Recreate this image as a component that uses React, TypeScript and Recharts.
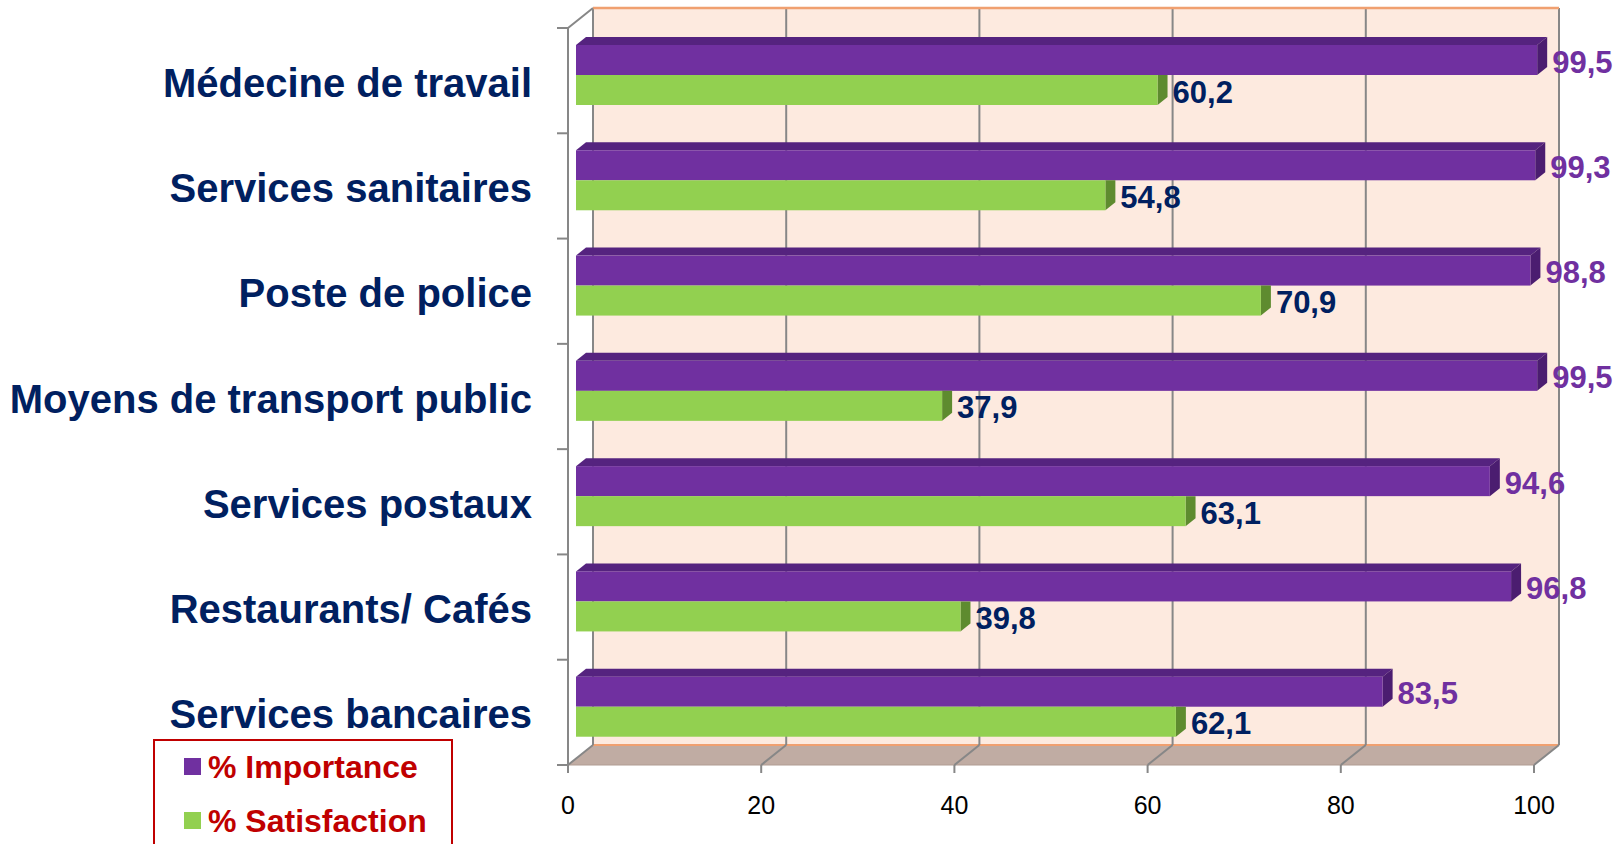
import React from 'react'
import { BarChart, Bar, XAxis, YAxis, ReferenceArea, LabelList, Legend } from 'recharts'

const categories = [
  'Médecine de travail',
  'Services sanitaires',
  'Poste de police',
  'Moyens de transport public',
  'Services postaux',
  'Restaurants/ Cafés',
  'Services bancaires',
]
const importance = [99.5, 99.3, 98.8, 99.5, 94.6, 96.8, 83.5]
const satisfaction = [60.2, 54.8, 70.9, 37.9, 63.1, 39.8, 62.1]
const xTicks = [0, 20, 40, 60, 80, 100]

const data = categories.map((name, i) => ({
  name,
  importance: importance[i],
  satisfaction: satisfaction[i],
}))

const FONT = 'Arial, "Liberation Sans", sans-serif'
const NAVY = '#002060'
const PURPLE = '#7030a0'
const GREEN = '#92d050'
const RED = '#c00000'

// depth of the bars, and where the walls sit relative to the bar plane
const DX = 10
const DY = 8
const BACK = { dx: 17, dy: -14 }
const FRONT = { dx: -8, dy: 6 }

const fmt = (v: number) => v.toFixed(1).replace('.', ',')

// back wall, floor, left wall and the grid, drawn around the plot area
const Box3D = (props: any) => {
  const { x, y, width, height } = props
  const bx = x + BACK.dx
  const by = y + BACK.dy
  const fx = x + FRONT.dx
  const fy = y + FRONT.dy
  const steps = xTicks.length - 1
  const rows = categories.length
  const grid = '#878787'
  return (
    <g>
      <rect x={bx} y={by} width={width} height={height} fill="#fdeadf" />
      <polygon
        points={`${fx},${fy + height} ${fx + width},${fy + height} ${bx + width},${by + height} ${bx},${by + height}`}
        fill="#c0aca3"
        stroke="#b09c92"
        strokeWidth={1}
      />
      <line x1={bx} y1={by + height} x2={bx + width} y2={by + height} stroke="#f0a070" strokeWidth={2} />
      {xTicks.map((t, k) => {
        const off = (width * k) / steps
        return (
          <g key={t}>
            <line x1={bx + off} y1={by} x2={bx + off} y2={by + height} stroke={grid} strokeWidth={2} />
            <line x1={bx + off} y1={by + height} x2={fx + off} y2={fy + height} stroke={grid} strokeWidth={2} />
            <line x1={fx + off} y1={fy + height} x2={fx + off} y2={fy + height + 8} stroke={grid} strokeWidth={2} />
          </g>
        )
      })}
      <line x1={bx} y1={by} x2={bx + width} y2={by} stroke="#f0a070" strokeWidth={2.5} />
      <line x1={fx} y1={fy} x2={bx} y2={by} stroke={grid} strokeWidth={2} />
      <line x1={fx} y1={fy} x2={fx} y2={fy + height + 8} stroke={grid} strokeWidth={2} />
      {Array.from({ length: rows + 1 }, (_, k) => {
        const ty = fy + (height * k) / rows
        return <line key={k} x1={fx - 11} y1={ty} x2={fx} y2={ty} stroke={grid} strokeWidth={2} />
      })}
    </g>
  )
}

const Bar3D = (props: any) => {
  const { x, y, width, height, fill, side, top } = props
  if (!width) return null
  return (
    <g>
      {top && (
        <polygon
          points={`${x},${y} ${x + DX},${y - DY} ${x + width + DX},${y - DY} ${x + width},${y}`}
          fill={top}
        />
      )}
      <polygon
        points={`${x + width},${y} ${x + width + DX},${top ? y - DY : y} ${x + width + DX},${y + height - DY} ${x + width},${y + height}`}
        fill={side}
      />
      <rect x={x} y={y} width={width} height={height} fill={fill} />
    </g>
  )
}

const valueLabel = (color: string) => (props: any) => {
  const { x, y, width, height, value } = props
  return (
    <text
      x={x + width + DX + 5}
      y={y + height / 2 + 2}
      dominantBaseline="central"
      fill={color}
      fontSize={31}
      fontWeight="bold"
      fontFamily={FONT}
    >
      {fmt(value)}
    </text>
  )
}

const CategoryTick = ({ x, y, payload }: any) => (
  <text
    x={x}
    y={y + 8}
    textAnchor="end"
    dominantBaseline="central"
    fill={NAVY}
    fontSize={40}
    fontWeight="bold"
    fontFamily={FONT}
  >
    {payload.value}
  </text>
)

const ValueTick = ({ x, y, payload }: any) => (
  <text
    x={x + FRONT.dx}
    y={y}
    textAnchor="middle"
    dominantBaseline="central"
    fill="#000"
    fontSize={25}
    fontFamily={FONT}
  >
    {payload.value}
  </text>
)

const LegendBox = ({ payload }: any) => (
  <div
    style={{
      width: 296,
      height: 105,
      border: `2px solid ${RED}`,
      borderBottom: 'none',
      position: 'relative',
      fontFamily: FONT,
    }}
  >
    {(payload || []).map((entry: any, i: number) => (
      <div
        key={entry.value}
        style={{ position: 'absolute', left: 29, top: 17 + i * 54, height: 17, display: 'flex', alignItems: 'center' }}
      >
        <span style={{ width: 17, height: 17, background: entry.color, marginRight: 7, display: 'inline-block' }} />
        <span style={{ color: RED, fontSize: 32, fontWeight: 'bold', lineHeight: 1, whiteSpace: 'nowrap' }}>
          {entry.value}
        </span>
      </div>
    ))}
  </div>
)

export default function App() {
  return (
    <div style={{ position: 'absolute', left: 0, top: 0, width: 1624, height: 844, background: '#fff' }}>
      <BarChart
        width={1624}
        height={844}
        data={data}
        layout="vertical"
        margin={{ top: 22, right: 82, bottom: 0, left: 0 }}
        barSize={30}
        barGap={0}
      >
        <XAxis
          type="number"
          domain={[0, 100]}
          ticks={xTicks}
          axisLine={false}
          tickLine={false}
          tickSize={0}
          tickMargin={46}
          height={85}
          tick={<ValueTick />}
        />
        <YAxis
          type="category"
          dataKey="name"
          width={576}
          axisLine={false}
          tickLine={false}
          tickSize={0}
          tickMargin={44}
          interval={0}
          tick={<CategoryTick />}
        />
        <ReferenceArea x1={0} x2={100} shape={<Box3D />} />
        <Legend
          layout="horizontal"
          align="center"
          verticalAlign="middle"
          content={<LegendBox />}
          wrapperStyle={{ position: 'absolute', left: 153, top: 739, width: 300, height: 105 }}
        />
        <Bar
          dataKey="importance"
          name="% Importance"
          fill={PURPLE}
          isAnimationActive={false}
          shape={(p: any) => <Bar3D {...p} side="#4b1d70" top="#55237f" />}
        >
          <LabelList dataKey="importance" content={valueLabel(PURPLE)} />
        </Bar>
        <Bar
          dataKey="satisfaction"
          name="% Satisfaction"
          fill={GREEN}
          isAnimationActive={false}
          shape={(p: any) => <Bar3D {...p} side="#5e8b2f" />}
        >
          <LabelList dataKey="satisfaction" content={valueLabel(NAVY)} />
        </Bar>
      </BarChart>
    </div>
  )
}
